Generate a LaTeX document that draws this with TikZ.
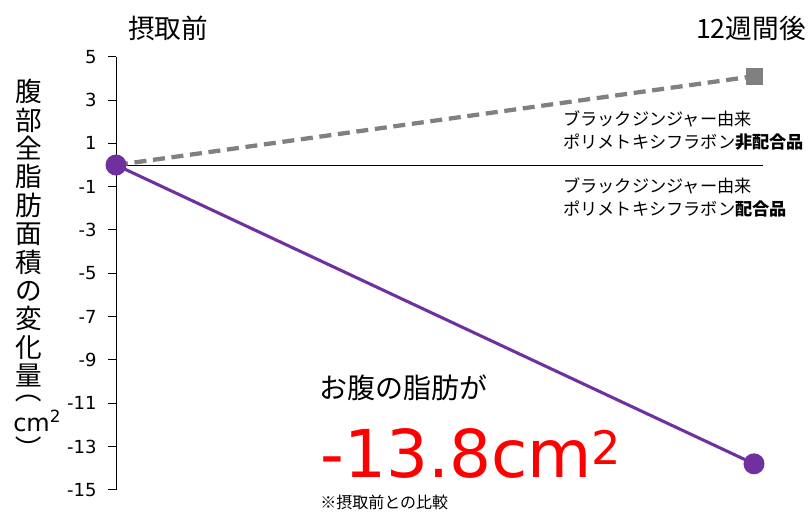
\documentclass[tikz,border=0pt]{standalone}
\usepackage{fontspec}
\setmainfont{DejaVu Sans}
\newfontfamily\jp{Noto Sans CJK JP}
\usetikzlibrary{calc}
\definecolor{fatpurple}{RGB}{112,48,160}
\definecolor{fatgray}{RGB}{128,128,128}
\tikzset{
	axisline/.style={line width=0.75pt},
	ticklabel/.style={anchor=east,inner sep=0pt,font=\fontsize{13.5}{16}\selectfont},
	graydash/.style={fatgray,line width=3.2pt,dash pattern=on 9pt off 5pt},
	purpleline/.style={fatpurple,line width=2.3pt},
	dot/.style={circle,fill=fatpurple,inner sep=0pt,minimum size=15.75pt},
	sqmark/.style={rectangle,fill=fatgray,inner sep=0pt,minimum size=12.75pt},
	legendtext/.style={anchor=west,align=left,inner sep=0pt,font=\jp\fontsize{12.9}{17.25}\selectfont},
	ylabtext/.style={inner sep=0pt,font=\jp\fontsize{20}{21.3}\selectfont}
}
\begin{document}
\begin{tikzpicture}[x=0.75pt,y=-0.75pt]
	\useasboundingbox (0,0) rectangle (809,512);
	
	\node (pre) at (168,28) {\jp\fontsize{20}{24}\selectfont 摂取前};
	\node[anchor=east,inner sep=0pt] (post) at (806,28) {\jp\fontsize{20}{24}\selectfont 12週間後};
	
	\begin{scope}[shift={(116,165)},y=16.24pt]
		\coordinate (Z) at (0,0);
		\coordinate (T) at (0,5);
		\coordinate (B) at (0,-15);
		\coordinate (R) at (647,0);
		\coordinate (G) at (638,4.1);
		\coordinate (P) at (638,-13.8);
		
		\draw[axisline] (T) -- (B);
		\foreach \v in {5,3,...,-15}
			\draw[axisline] (-8,\v) -- (0,\v) node[ticklabel] (lab\v) at (-19,\v) {\v};
		\draw[axisline] (Z) -- (R);
		
		\draw[graydash] (Z) -- (G);
		\node[sqmark] (g2) at (G) {};
		\draw[purpleline] (Z) -- (P);
		\node[dot] (p1) at (Z) {};
		\node[dot] (p2) at (P) {};
	\end{scope}
	
	\node[legendtext] (lgA) at (563,131) {ブラックジンジャー由来\\ポリメトキシフラボン\textbf{非配合品}};
	\node[legendtext] (lgB) at (563,197) {ブラックジンジャー由来\\ポリメトキシフラボン\textbf{配合品}};
	
	% vertical axis title
	\node[ylabtext,anchor=north west,align=left] (ylab) at (15,79)
		{腹\\部\\全\\脂\\肪\\面\\積\\の\\変\\化\\量};
	\node[ylabtext] (popen) at (29,390) {\rotatebox{-90}{（}};
	\node[inner sep=0pt,anchor=base west,font=\fontsize{18}{20}\selectfont] (unit) at (13,431) {cm\textsuperscript{2}};
	\node[ylabtext] (pclose) at (29,449) {\rotatebox{-90}{）}};
	
	\node[anchor=west,inner sep=0pt] (msg) at (319,388) {\jp\fontsize{21}{24}\selectfont お腹の脂肪が};
	\node[anchor=base west,inner sep=0pt,red] (num) at (320,477) {\fontsize{49.5}{60}\selectfont -13.8cm\textsuperscript{2}};
	\node[anchor=west,inner sep=0pt] (note) at (320,502) {\jp\fontsize{12}{14}\selectfont ※摂取前との比較};
\end{tikzpicture}
\end{document}
